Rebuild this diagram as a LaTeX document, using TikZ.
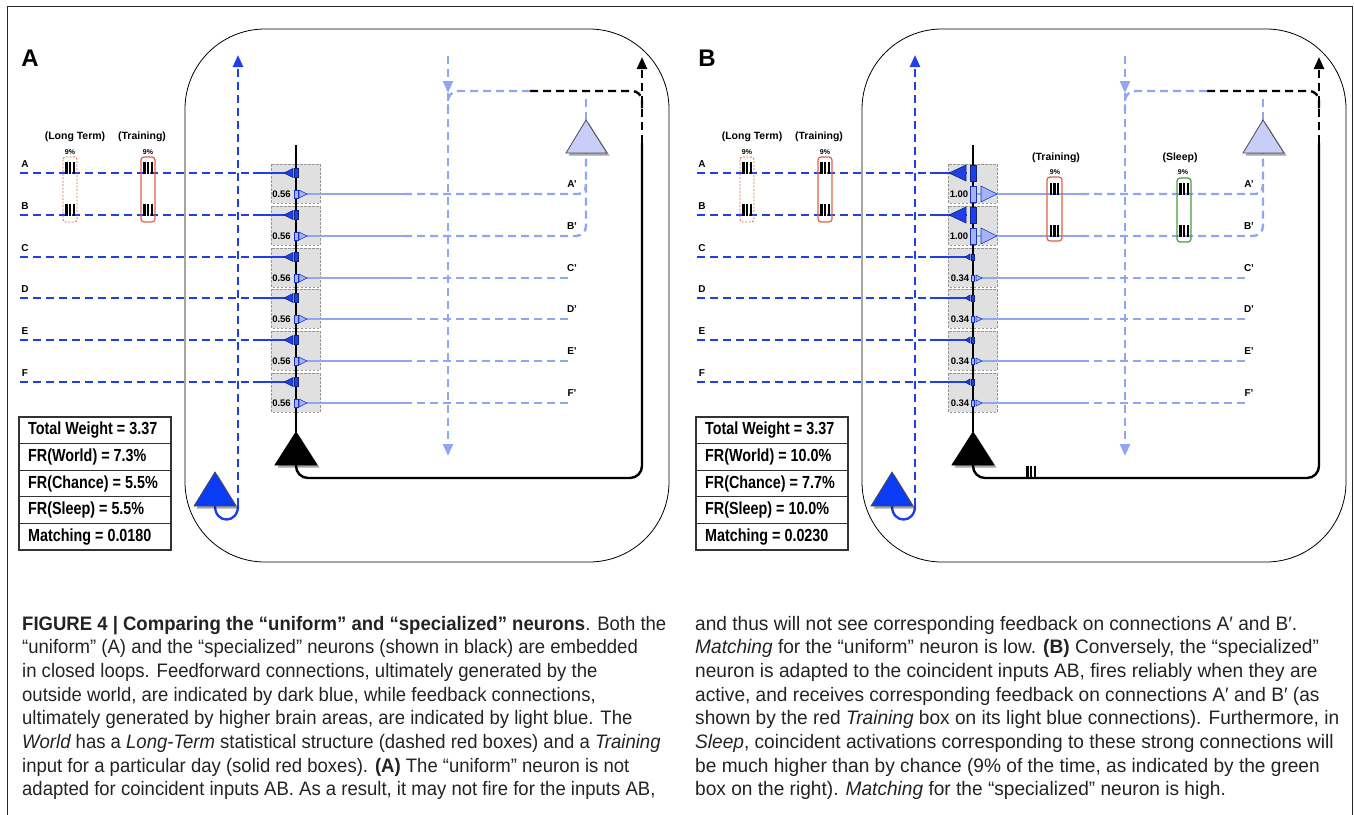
\documentclass[tikz,border=0pt]{standalone}
\usepackage{fontspec}
\setmainfont{Liberation Sans}
\newfontfamily\narrowfont{Liberation Sans}[FakeStretch=0.82]
\newfontfamily\capfont{Liberation Sans}[FakeStretch=0.95]
\newfontfamily\capfontR{Liberation Sans}[FakeStretch=0.98]
\usetikzlibrary{arrows.meta,shadows}
\definecolor{dblue}{RGB}{30,64,230}
\definecolor{tblue}{RGB}{10,60,245}
\definecolor{lblue}{RGB}{145,165,245}
\definecolor{lfill}{RGB}{200,206,248}
\definecolor{synl}{RGB}{165,178,245}
\definecolor{redbox}{RGB}{225,95,75}
\definecolor{greenbox}{RGB}{70,160,60}
\definecolor{boxgray}{RGB}{224,224,224}
\definecolor{boxedge}{RGB}{150,150,150}
\definecolor{captext}{RGB}{35,35,35}
\tikzset{
  ffdash/.style={draw=dblue, line width=2.4pt, dash pattern=on 8pt off 5pt},
  ffline/.style={draw=dblue, line width=2.4pt},
  fbdash/.style={draw=lblue, line width=2.4pt, dash pattern=on 8pt off 5pt},
  fbline/.style={draw=lblue, line width=2.4pt},
  blkdash/.style={draw=black, line width=2.4pt, dash pattern=on 8pt off 5pt},
  blkline/.style={draw=black, line width=2.4pt},
  arrowend/.style={-{Triangle[length=12pt,width=10pt]}},
  synbox/.style={fill=boxgray, draw=boxedge, dash pattern=on 2.5pt off 1.5pt, line width=0.7pt},
  rowlbl/.style={font=\bfseries\fontsize{10}{12}\selectfont, inner sep=0pt},
  hdr/.style={font=\bfseries\fontsize{10.5}{12}\selectfont, inner sep=0pt},
  pct/.style={font=\bfseries\fontsize{7}{8}\selectfont, inner sep=0pt},
  wlbl/.style={font=\bfseries\fontsize{9.5}{11}\selectfont, inner sep=0pt},
  panellbl/.style={font=\bfseries\fontsize{24}{26}\selectfont, inner sep=0pt},
  stat/.style={font=\narrowfont\bfseries\fontsize{17.5}{20}\selectfont, inner sep=0pt, anchor=west},
  statbox/.style={draw=black!80, line width=1.2pt},
  nshadow/.style={drop shadow={shadow xshift=2.5pt, shadow yshift=-2.5pt, opacity=0.35, fill=black}},
  ltbox/.style={draw=redbox, line width=0.8pt, rounded corners=2.5pt, dash pattern=on 2pt off 1.5pt},
  trbox/.style={draw=redbox, line width=1.2pt, rounded corners=3pt},
  slbox/.style={draw=greenbox, line width=1.2pt, rounded corners=3pt},
  darksyn/.style={fill=dblue, draw=dblue!55!black, line width=0.6pt},
  lightsyn/.style={fill=synl, draw=dblue!80!black, line width=0.6pt},
  captxt/.style={font=\capfont\fontsize{19.5}{23.7}\selectfont, text=captext, inner sep=0pt, anchor=base west},
  captxtR/.style={font=\capfontR\fontsize{19.5}{23.7}\selectfont, text=captext, inner sep=0pt, anchor=base west},
}
\newcommand\mybars[2]{\foreach \dx in {-3.6,0,3.6}{\fill[black] ({#1+\dx-1.1},{#2-11}) rectangle ({#1+\dx+1.1},{#2+1});}}
\begin{document}
\begin{tikzpicture}[x=1pt,y=-1pt]
\useasboundingbox (0,0) rectangle (1354,814);
% figure frame
\draw[line width=0.8pt, black!85] (7,830) -- (7,6) -- (1352,6) -- (1352,830);
\foreach \ox/\pn in {0/A,677/B}{
\begin{scope}[xshift=\ox pt]
  \node[panellbl] (lbl\pn) at (30,58) {\pn};
  % outer loop
  \draw[line width=0.8pt, rounded corners=80pt] (185,29) rectangle (669,562);
  % synapse boxes
  \foreach \r in {173,215,257,298,340,382}
    \draw[synbox] (271.5,\r-9) rectangle (320,\r+30);
  % black dendrite
  \draw[blkline] (296,145) -- (296,432);
  % black output loop
  \draw[blkline, rounded corners=12pt] (296,460) -- (296,478) -- (642,478) -- (642,143);
  \draw[blkdash, arrowend] (642,143) -- (642,57);
  \draw[blkdash, rounded corners=10pt] (530,91) -- (642,91) -- (642,110);
  % light blue feedback bus
  \draw[fbdash, rounded corners=10pt] (530,91) -- (448,91) -- (448,110);
  \draw[fbdash, arrowend] (448,56) -- (448,93);
  \draw[fbdash, arrowend] (448,93) -- (448,456);
  % dark blue upward line and loop
  \draw[ffline] (215,506) .. controls (215,524) and (238,524) .. (238,506);
  \draw[ffdash, arrowend] (238,506) -- (238,55);
  % input rows and output rows
  \foreach \r/\n in {173/A,215/B,257/C,298/D,340/E,382/F}{
    \node[rowlbl] (in\n\pn) at (25,\r-9) {\n};
    \draw[ffdash] (20,\r) -- (256,\r);
    \draw[ffline] (253,\r) -- (290,\r);
    \draw[fbline] (300,\r+21) -- (404,\r+21);
    \node[rowlbl] (out\n\pn) at (572,\r+11) {\n'};
  }
  \foreach \r in {257,298,340,382}
    \draw[fbdash] (404,\r+21) -- (572,\r+21);
  \draw[fbdash] (404,194) -- (578,194) .. controls (584,194) and (586,190) .. (586,184);
  \draw[fbdash, rounded corners=10pt] (404,236) -- (586,236) -- (586,153);
  \draw[fbdash] (586,120) -- (586,98);
  % long term and training boxes
  \draw[ltbox] (63,157) rectangle (77,222);
  \draw[trbox] (141,157) rectangle (155,222);
  \mybars{70}{173}\mybars{70}{215}\mybars{148}{173}\mybars{148}{215}
  \node[pct] at (70,152) {9\%};
  \node[pct] at (148,152) {9\%};
  \node[hdr] (lt\pn) at (75,137) {(Long Term)};
  \node[hdr] (tr\pn) at (142,137) {(Training)};
  % neurons
  \filldraw[fill=lfill, draw=black!70, line width=0.8pt, nshadow] (586,120) -- (607,153) -- (566,153) -- cycle;
  \filldraw[fill=tblue, draw=black!70, line width=0.8pt, nshadow] (215,472) -- (236,506) -- (194,506) -- cycle;
  \filldraw[fill=black, draw=black, line width=0.8pt, nshadow] (296,432) -- (317,465) -- (275,465) -- cycle;
  % stats table frame
  \draw[statbox] (19,417) rectangle (171,550);
  \foreach \yy in {443.6,470.2,496.8,523.4} \draw[statbox] (19,\yy) -- (171,\yy);
\end{scope}
}
% ---- panel A synapses (uniform, 0.56)
\foreach \r in {173,215,257,298,340,382}{
  \filldraw[darksyn] (284,\r) -- (293,\r-4.5) -- (293,\r+4.5) -- cycle;
  \filldraw[darksyn] (294,\r-4.5) rectangle (298,\r+4.5);
  \filldraw[lightsyn] (294,\r+17) rectangle (298,\r+25);
  \filldraw[lightsyn] (299,\r+17) -- (307,\r+21) -- (299,\r+25) -- cycle;
  \node[wlbl] at (281.5,\r+21) {0.56};
}
% ---- panel B synapses
\begin{scope}[xshift=677pt]
\foreach \r in {173,215}{
  \filldraw[darksyn] (272,\r) -- (289,\r-8) -- (289,\r+8) -- cycle;
  \filldraw[darksyn] (293,\r-8) rectangle (299,\r+8);
  \filldraw[lightsyn] (293,\r+13) rectangle (299,\r+29);
  \filldraw[lightsyn] (304,\r+13) -- (320,\r+21) -- (304,\r+29) -- cycle;
  \node[wlbl] at (282,\r+21) {1.00};
}
\foreach \r in {257,298,340,382}{
  \filldraw[darksyn] (288,\r) -- (293,\r-3) -- (293,\r+3) -- cycle;
  \filldraw[darksyn] (294,\r-3) rectangle (297,\r+3);
  \filldraw[lightsyn] (294,\r+18) rectangle (297,\r+24);
  \filldraw[lightsyn] (299,\r+18) -- (305,\r+21) -- (299,\r+24) -- cycle;
  \node[wlbl] at (283,\r+21) {0.34};
}
\draw[trbox] (370,177) rectangle (385,241);
\draw[slbox] (500,178) rectangle (514,242);
\mybars{377.5}{194}\mybars{377.5}{236}\mybars{507}{194}\mybars{507}{236}
\node[hdr] (trB2) at (379,158) {(Training)};
\node[pct] at (378,172) {9\%};
\node[hdr] (slB) at (503,158) {(Sleep)};
\node[pct] at (506,172) {9\%};
\mybars{354}{477}
\end{scope}
% ---- stats text
\node[stat] (twA) at (28,430.3) {Total Weight = 3.37};
\node[stat] (fwA) at (28,456.9) {FR(World) = 7.3\%};
\node[stat] (fcA) at (28,483.5) {FR(Chance) = 5.5\%};
\node[stat] (fsA) at (28,510.1) {FR(Sleep) = 5.5\%};
\node[stat] (mA) at (28,536.7) {Matching = 0.0180};
\node[stat] (twB) at (705,430.3) {Total Weight = 3.37};
\node[stat] (fwB) at (705,456.9) {FR(World) = 10.0\%};
\node[stat] (fcB) at (705,483.5) {FR(Chance) = 7.7\%};
\node[stat] (fsB) at (705,510.1) {FR(Sleep) = 10.0\%};
\node[stat] (mB) at (705,536.7) {Matching = 0.0230};
% ---- caption
\node[captxt] (c1) at (22,630) {\bfseries FIGURE 4 | Comparing the “uniform” and “specialized” neurons\mdseries. Both the};
\node[captxt] (c2) at (22,653.7) {“uniform” (A) and the “specialized” neurons (shown in black) are embedded};
\node[captxt] (c3) at (22,677.4) {in closed loops. Feedforward connections, ultimately generated by the};
\node[captxt] (c4) at (22,701.1) {outside world, are indicated by dark blue, while feedback connections,};
\node[captxt] (c5) at (22,724.8) {ultimately generated by higher brain areas, are indicated by light blue. The};
\node[captxt] (c6) at (22,748.5) {\itshape World\upshape\ has a \itshape Long-Term\upshape\ statistical structure (dashed red boxes) and a \itshape Training};
\node[captxt] (c7) at (22,772.2) {input for a particular day (solid red boxes). \bfseries (A)\mdseries\ The “uniform” neuron is not};
\node[captxt] (c8) at (22,795.9) {adapted for coincident inputs AB. As a result, it may not fire for the inputs AB,};
\node[captxtR] (d1) at (695,630) {and thus will not see corresponding feedback on connections A′ and B′.};
\node[captxtR] (d2) at (695,653.7) {\itshape Matching\upshape\ for the “uniform” neuron is low. \bfseries (B)\mdseries\ Conversely, the “specialized”};
\node[captxtR] (d3) at (695,677.4) {neuron is adapted to the coincident inputs AB, fires reliably when they are};
\node[captxtR] (d4) at (695,701.1) {active, and receives corresponding feedback on connections A′ and B′ (as};
\node[captxtR] (d5) at (695,724.8) {shown by the red \itshape Training\upshape\ box on its light blue connections). Furthermore, in};
\node[captxtR] (d6) at (695,748.5) {\itshape Sleep\upshape, coincident activations corresponding to these strong connections will};
\node[captxtR] (d7) at (695,772.2) {be much higher than by chance (9\% of the time, as indicated by the green};
\node[captxtR] (d8) at (695,795.9) {box on the right). \itshape Matching\upshape\ for the “specialized” neuron is high.};
\end{tikzpicture}
\end{document}
